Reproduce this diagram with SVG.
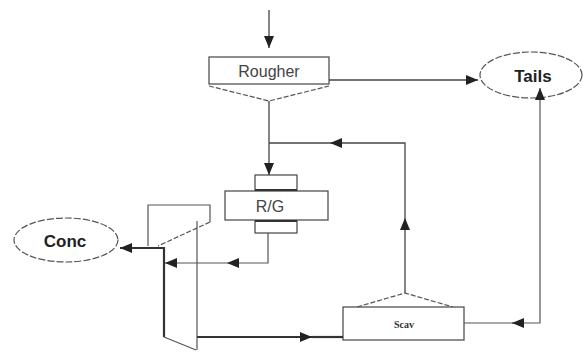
<svg xmlns="http://www.w3.org/2000/svg" width="583" height="352" viewBox="0 0 583 352">
<style>
.box{fill:#fff;stroke:#444;stroke-width:1.2}
.thin{fill:none;stroke:#555;stroke-width:1.2}
.dash{fill:none;stroke:#555;stroke-width:1.2;stroke-dasharray:5 2}
.ell{fill:#fff;stroke:#555;stroke-width:1.2;stroke-dasharray:7 2}
.thick{fill:none;stroke:#333;stroke-width:2.2}
.conn{fill:none;stroke:#444;stroke-width:1.3}
.lbl{font-family:"Liberation Sans",Arial,sans-serif;fill:#444}
.bold{font-family:"Liberation Sans",Arial,sans-serif;font-weight:bold;fill:#222}
</style>
<defs>
<marker id="ah" viewBox="0 0 12 10" refX="12" refY="5" markerWidth="12" markerHeight="10" markerUnits="userSpaceOnUse" orient="auto">
<path d="M0,0 L12,5 L0,10 Z" fill="#222"/>
</marker>
</defs>
<rect width="583" height="352" fill="#fff"/>

<g id="rougher">
<rect class="box" x="209" y="57" width="120" height="27"/>
<path class="dash" d="M209,86 L269,101 L329,86"/>
<text class="lbl" x="269" y="77" font-size="16" text-anchor="middle">Rougher</text>
</g>

<g id="tails">
<ellipse class="ell" cx="531" cy="75" rx="51" ry="23"/>
<text class="bold" x="533" y="82" font-size="17" text-anchor="middle">Tails</text>
</g>

<g id="rg">
<rect class="box" x="255" y="175" width="42" height="15"/>
<rect class="box" x="255" y="221" width="42" height="12"/>
<rect class="box" x="225" y="191" width="103" height="29"/>
<path class="thick" d="M255,190 L297,190 M255,221 L297,221"/>
<text class="lbl" x="270" y="212" font-size="16" text-anchor="middle">R/G</text>
</g>

<g id="cyclone">
<path class="thin" d="M148,246 L148,205 L210,205 L210,222"/>
<path class="dash" d="M210,222 L158,246"/>
<path class="thin" d="M197,221 L197,350"/>
<path class="thick" d="M164,247 L164,337"/>
<path class="thin" d="M164,337 L196,350"/>
</g>

<g id="conc">
<ellipse class="ell" cx="66" cy="240" rx="52" ry="22"/>
<text class="bold" x="65" y="247" font-size="17" text-anchor="middle">Conc</text>
</g>

<g id="scav">
<rect class="box" x="343" y="307" width="121" height="33"/>
<path class="dash" d="M357,307 L405,293 L453,307"/>
<text x="404" y="328" font-size="10" font-weight="bold" font-family="'Liberation Serif',serif" fill="#333" text-anchor="middle">Scav</text>
</g>

<g id="connectors">
<path class="conn" d="M269,10 L269,48" marker-end="url(#ah)"/>
<path class="conn" d="M329,80 L478,80" marker-end="url(#ah)"/>
<path class="conn" d="M269,101 L269,175" marker-end="url(#ah)"/>
<path class="conn" d="M405,293 L405,218" marker-end="url(#ah)"/>
<path class="conn" d="M405,218 L405,143 L330,143" marker-end="url(#ah)"/>
<path class="conn" d="M330,143 L269,143"/>
<path class="thin" d="M268,233 L268,263 L227,263" marker-end="url(#ah)"/>
<path class="thin" d="M227,263 L165,263" marker-end="url(#ah)"/>
<path class="thick" d="M164,248 L120,248" marker-end="url(#ah)"/>
<path class="thick" d="M197,337 L312,337" marker-end="url(#ah)"/>
<path class="thick" d="M312,337 L343,337"/>
<path class="thin" d="M464,323 L540,323 L540,200"/>
<path class="thin" d="M524,323 L512,323" marker-end="url(#ah)"/>
<path class="thin" d="M540,200 L540,88" marker-end="url(#ah)"/>
</g>
</svg>
